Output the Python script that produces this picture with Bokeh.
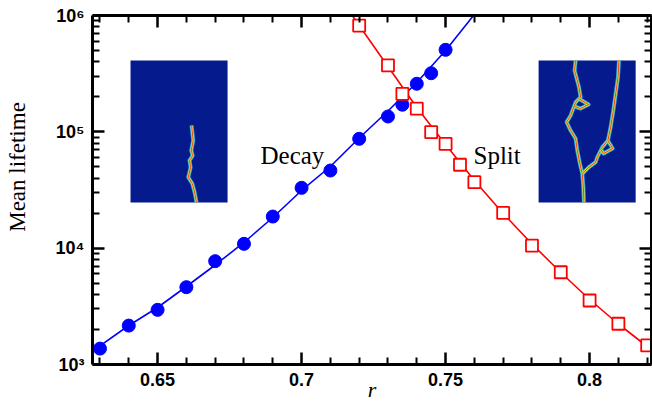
import math
from bokeh.plotting import figure
from bokeh.models import Range1d, FixedTicker, LogAxis, LinearAxis, Label, CustomJSTickFormatter
from bokeh.embed import file_html
from bokeh.resources import INLINE

# ---- data ----
decay_r = [0.63, 0.64, 0.65, 0.66, 0.67, 0.68, 0.69, 0.70, 0.71, 0.72, 0.73, 0.735, 0.74, 0.745, 0.75]
decay_t = [1.37e3, 2.16e3, 2.95e3, 4.62e3, 7.73e3, 1.09e4, 1.87e4, 3.30e4, 4.65e4, 8.71e4,
           1.355e5, 1.71e5, 2.59e5, 3.19e5, 5.07e5]
decay_fit_r = [0.6274, 0.64, 0.65, 0.66, 0.67, 0.68, 0.69, 0.70, 0.71, 0.72, 0.73, 0.74, 0.75, 0.7597]
decay_fit_t = [1301, 2164, 3090, 4683, 7168, 11190, 18350, 31320, 50350, 88520, 151100, 265600, 500200, 1.0e6]

split_r = [0.72, 0.73, 0.735, 0.74, 0.745, 0.75, 0.755, 0.76, 0.77, 0.78, 0.79, 0.80, 0.81, 0.82]
split_t = [8.2e5, 3.72e5, 2.12e5, 1.58e5, 9.93e4, 7.89e4, 5.21e4, 3.69e4, 2.01e4, 1.05e4,
           6.21e3, 3.55e3, 2.24e3, 1.46e3]
split_fit_r = [0.7176, 0.72, 0.73, 0.74, 0.75, 0.76, 0.77, 0.78, 0.79, 0.80, 0.81, 0.82, 0.83]
split_fit_t = [1.0e6, 820600, 364500, 161900, 77850, 38160, 19860, 10860, 6179, 3621, 2229, 1428, 942.3]

x_major = [0.65, 0.70, 0.75, 0.80]
x_labels = ["0.65", "0.7", "0.75", "0.8"]
x_minor = [0.63, 0.64, 0.66, 0.67, 0.68, 0.69, 0.71, 0.72, 0.73, 0.74, 0.76, 0.77, 0.78, 0.79, 0.81, 0.82]
y_major = [1e3, 1e4, 1e5, 1e6]
y_labels = ["10³", "10⁴", "10⁵", "10⁶"]

# inset pictures (boxes in data coords, traces in box-relative coords u: left->right, v: top->bottom)
inset_decay_box = [0.6406, 0.6743, 2.47e4, 4.1e5]
inset_split_box = [0.7823, 0.8160, 2.47e4, 4.1e5]
decay_trace_u = [0.629, 0.646, 0.626, 0.640, 0.608, 0.619, 0.595, 0.636, 0.660, 0.680]
decay_trace_v = [0.458, 0.563, 0.634, 0.670, 0.704, 0.754, 0.822, 0.866, 0.927, 1.0]
split_left_u = [0.381, 0.371, 0.416, 0.433, 0.381, 0.330, 0.289, 0.330, 0.381, 0.399, 0.426, 0.450, 0.461, 0.467]
split_left_v = [0.0, 0.070, 0.188, 0.258, 0.294, 0.387, 0.434, 0.493, 0.549, 0.634, 0.728, 0.798, 0.892, 1.0]
split_spur_u = [0.412, 0.515, 0.433, 0.371]
split_spur_v = [0.268, 0.310, 0.338, 0.324]
split_right_u = [0.828, 0.818, 0.794, 0.770, 0.742, 0.714, 0.657, 0.605, 0.588, 0.519, 0.450]
split_right_v = [0.0, 0.118, 0.235, 0.352, 0.470, 0.563, 0.610, 0.681, 0.716, 0.751, 0.798]
split_loop_u = [0.714, 0.763, 0.670, 0.639]
split_loop_v = [0.563, 0.620, 0.655, 0.627]

BLUE = "#0000FF"
RED = "#FF0000"
INSET_BG = "#051A8D"

p = figure(width=652, height=404, y_axis_type="log",
           x_range=Range1d(0.6274, 0.8215), y_range=Range1d(1e3, 1e6),
           output_backend="svg", toolbar_location=None,
           min_border_left=92, min_border_right=1, min_border_top=15, min_border_bottom=40)
p.outline_line_color = None
p.grid.visible = False
p.background_fill_color = "white"
p.border_fill_color = "white"


def style_axis(ax, ticks, minor, labels=None):
    ax.ticker = FixedTicker(ticks=ticks, minor_ticks=minor)
    ax.axis_line_width = 3
    ax.axis_line_color = "black"
    ax.major_tick_in = 12
    ax.major_tick_out = 0
    ax.minor_tick_in = 7
    ax.minor_tick_out = 0
    ax.major_tick_line_width = 2.5
    ax.minor_tick_line_width = 2
    ax.major_tick_line_color = "black"
    ax.minor_tick_line_color = "black"
    if labels is None:
        ax.formatter = CustomJSTickFormatter(code="return ''")
        ax.major_label_text_font_size = "1px"
        ax.major_label_standoff = 0
    else:
        ax.major_label_overrides = {t: l for t, l in zip(ticks, labels)}
        ax.major_label_text_font = "Liberation Sans"
        ax.major_label_text_font_style = "bold"
        ax.major_label_text_font_size = "18px"
        ax.major_label_text_color = "black"
        ax.major_label_standoff = 8


y_minor = [m * 10 ** e for e in range(3, 6) for m in range(2, 10)]

style_axis(p.xaxis[0], x_major, x_minor, x_labels)
style_axis(p.yaxis[0], y_major, y_minor, y_labels)

# axis titles
p.yaxis[0].axis_label = "\u2002\u2002\u2002\u2002Mean lifetime"
p.yaxis[0].axis_label_text_font = "Liberation Serif"
p.yaxis[0].axis_label_text_font_style = "normal"
p.yaxis[0].axis_label_text_font_size = "23px"
p.yaxis[0].axis_label_text_color = "black"
p.yaxis[0].axis_label_standoff = 23

p.xaxis[0].axis_label = "r"
p.xaxis[0].axis_label_text_font = "Liberation Serif"
p.xaxis[0].axis_label_text_font_style = "italic"
p.xaxis[0].axis_label_text_font_size = "22px"
p.xaxis[0].axis_label_text_color = "black"
p.xaxis[0].axis_label_standoff = -12

top_ax = LinearAxis()
style_axis(top_ax, x_major, x_minor)
p.add_layout(top_ax, "above")
right_ax = LogAxis()
style_axis(right_ax, y_major, y_minor)
p.add_layout(right_ax, "right")


def box_coords(box, us, vs):
    r0, r1, tb, tt = box
    lb, lt = math.log10(tb), math.log10(tt)
    xs = [r0 + u * (r1 - r0) for u in us]
    ys = [10 ** (lt + v * (lb - lt)) for v in vs]
    return xs, ys


# insets
for box in (inset_decay_box, inset_split_box):
    p.quad(left=[box[0]], right=[box[1]], bottom=[box[2]], top=[box[3]],
           fill_color=INSET_BG, line_color=None)

traces = [
    box_coords(inset_decay_box, decay_trace_u, decay_trace_v),
    box_coords(inset_split_box, split_left_u, split_left_v),
    box_coords(inset_split_box, split_spur_u, split_spur_v),
    box_coords(inset_split_box, split_right_u, split_right_v),
    box_coords(inset_split_box, split_loop_u, split_loop_v),
]
for xs, ys in traces:
    p.line(xs, ys, line_color="#35C8E6", line_width=4.0, line_alpha=0.85, line_join="round")
    p.line(xs, ys, line_color="#E6E040", line_width=2.2, line_join="round")
    p.line(xs, ys, line_color="#E84818", line_width=1.0, line_join="round")

# curves
p.line(decay_fit_r, decay_fit_t, line_color=BLUE, line_width=1.6)
p.scatter(decay_r, decay_t, marker="circle", size=13, fill_color=BLUE, line_color=BLUE)
p.line(split_fit_r, split_fit_t, line_color=RED, line_width=1.6)
p.scatter(split_r, split_t, marker="square", size=12, fill_color="white", fill_alpha=1,
          line_color=RED, line_width=1.8)

# texts
p.add_layout(Label(x=168, y=209, x_units="screen", y_units="screen", text="Decay",
                   text_font="Liberation Serif", text_font_size="25px", text_color="black",
                   text_align="left", text_baseline="alphabetic"))
p.add_layout(Label(x=381, y=209, x_units="screen", y_units="screen", text="Split",
                   text_font="Liberation Serif", text_font_size="25px", text_color="black",
                   text_align="left", text_baseline="alphabetic"))

open("out.html", "w").write(file_html(p, INLINE))
